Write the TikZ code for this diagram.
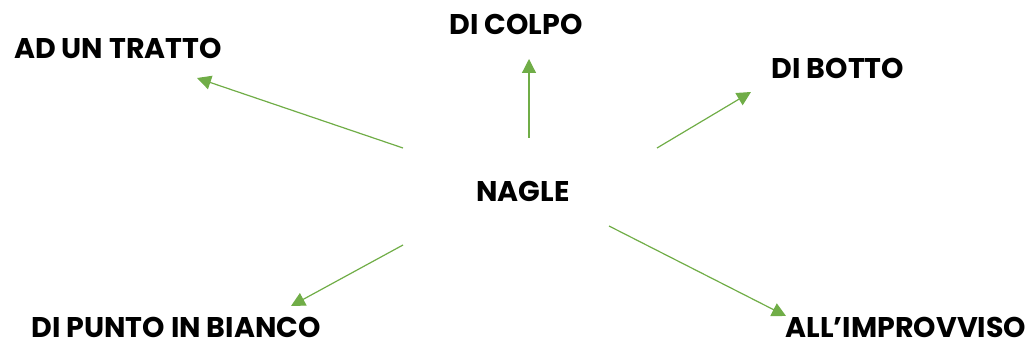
\documentclass[tikz,border=0pt]{standalone}
\usepackage{fontspec}
\setmainfont{Poppins}
\usetikzlibrary{arrows.meta}
\definecolor{leaf}{HTML}{70AD47}
\tikzset{
  word/.style={font=\bfseries\fontsize{28.5}{32}\selectfont, text=black,
    inner sep=0pt, text depth=0pt, anchor=base},
  link/.style={draw=leaf, line width=1.2pt, -{Triangle[length=14pt,width=14pt]}}
}
\begin{document}
\begin{tikzpicture}[x=1pt,y=-1pt]
  \useasboundingbox (0,0) rectangle (1033,347);
  % labels
  \node[word] (centre) at (523,202) {NAGLE};
  \node[word] (tratto) at (118,59) {AD UN TRATTO};
  \node[word] (colpo)  at (516,35) {DI COLPO};
  \node[word] (botto)  at (838,79) {DI BOTTO};
  \node[word] (bianco) at (176,337.5) {DI PUNTO IN BIANCO};
  \node[word] (improv) at (906,337) {ALL'IMPROVVISO};
  % arrow end points
  \coordinate (s1) at (403,148); \coordinate (e1) at (197,78);
  \coordinate (s2) at (529,138); \coordinate (e2) at (529,59);
  \coordinate (s3) at (657,148); \coordinate (e3) at (751,92);
  \coordinate (s4) at (403,245); \coordinate (e4) at (291,306);
  \coordinate (s5) at (609,226); \coordinate (e5) at (786,316);
  % arrows
  \draw[link] (s1) -- (e1);
  \draw[link] (s2) -- (e2);
  \draw[link] (s3) -- (e3);
  \draw[link] (s4) -- (e4);
  \draw[link] (s5) -- (e5);
\end{tikzpicture}
\end{document}
